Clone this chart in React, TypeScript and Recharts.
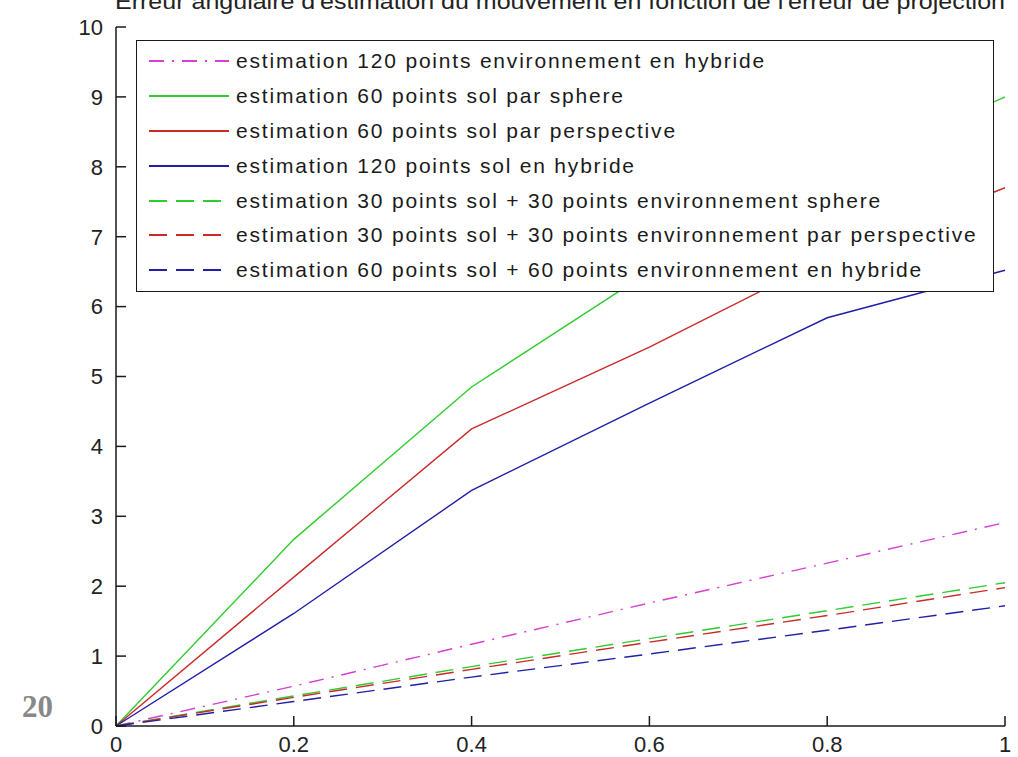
import { Legend, Line, LineChart, XAxis, YAxis } from 'recharts';

// erreur de projection (abscisse)
const projectionError = [0, 0.2, 0.4, 0.6, 0.8, 1];

// erreur angulaire par configuration
const env120Hybride = [0, 0.57, 1.17, 1.76, 2.33, 2.91];
const sol60Sphere = [0, 2.67, 4.85, 6.5, 7.85, 9.0];
const sol60Perspective = [0, 2.13, 4.25, 5.42, 6.7, 7.7];
const sol120Hybride = [0, 1.61, 3.37, 4.62, 5.84, 6.52];
const mix30Sphere = [0, 0.43, 0.85, 1.25, 1.65, 2.05];
const mix30Perspective = [0, 0.41, 0.81, 1.2, 1.58, 1.98];
const mix60Hybride = [0, 0.35, 0.7, 1.03, 1.37, 1.72];

const xTicks = [0, 0.2, 0.4, 0.6, 0.8, 1];
const yTicks = [0, 1, 2, 3, 4, 5, 6, 7, 8, 9, 10];

const title = "Erreur angulaire d'estimation du mouvement en fonction de l'erreur de projection";

const series = [
  { key: 'env120', values: env120Hybride, name: 'estimation 120 points environnement en hybride', color: '#d63fd6', dash: '15 8 2 8' },
  { key: 'sol60s', values: sol60Sphere, name: 'estimation 60 points sol par sphere', color: '#2ecc2e', dash: undefined },
  { key: 'sol60p', values: sol60Perspective, name: 'estimation 60 points sol par perspective', color: '#cc2a2a', dash: undefined },
  { key: 'sol120', values: sol120Hybride, name: 'estimation 120 points sol en hybride', color: '#1f1fa8', dash: undefined },
  { key: 'mix30s', values: mix30Sphere, name: 'estimation 30 points sol + 30 points environnement sphere', color: '#2ecc2e', dash: '18 9' },
  { key: 'mix30p', values: mix30Perspective, name: 'estimation 30 points sol + 30 points environnement par perspective', color: '#cc2a2a', dash: '18 9' },
  { key: 'mix60', values: mix60Hybride, name: 'estimation 60 points sol + 60 points environnement en hybride', color: '#1f1fa8', dash: '18 9' },
];

const data = projectionError.map((x, i) => {
  const row: Record<string, number> = { x };
  series.forEach((s) => (row[s.key] = s.values[i]));
  return row;
});

const font = '"Liberation Sans", Arial, sans-serif';
const axisColor = '#1a1a1a';
const tickFont = { fontFamily: font, fontSize: 22, fill: '#222' };

// legend keeps the plot order (recharts would sort it by name)
function LegendBox() {
  return (
    <div style={{ border: `1.5px solid ${axisColor}`, background: '#fff', padding: '3px 0', width: 856 }}>
      {series.map((s) => (
        <div key={s.key} style={{ height: 34.8, display: 'flex', alignItems: 'center' }}>
          <svg width={99} height={10} style={{ flex: 'none' }}>
            <line x1={12} x2={92} y1={5} y2={5} stroke={s.color} strokeWidth={1.8} strokeDasharray={s.dash} />
          </svg>
          <span style={{ fontFamily: font, fontSize: 21, letterSpacing: 1.8, color: '#1a1a1a', whiteSpace: 'nowrap' }}>{s.name}</span>
        </div>
      ))}
    </div>
  );
}

export default function App() {
  return (
    <div style={{ position: 'relative', width: 1018, height: 757, background: '#fff' }}>
      <style>{'body{margin:0}'}</style>
      <LineChart width={1018} height={757} data={data} margin={{ top: 27, right: 13, bottom: 0, left: 0 }}>
        <XAxis
          dataKey="x"
          type="number"
          domain={[0, 1]}
          ticks={xTicks}
          height={31}
          stroke={axisColor}
          strokeWidth={1.5}
          tickSize={-10}
          tickMargin={20}
          tick={tickFont}
          tickFormatter={(v: number) => String(v)}
        />
        <XAxis xAxisId="top" dataKey="x" type="number" orientation="top" domain={[0, 1]} ticks={xTicks} height={0} stroke={axisColor} strokeWidth={1.5} tickSize={-10} tick={false} />
        <YAxis
          type="number"
          domain={[0, 10]}
          ticks={yTicks}
          width={116}
          stroke={axisColor}
          strokeWidth={1.5}
          tickSize={-10}
          tickMargin={23}
          tick={tickFont}
        />
        <YAxis yAxisId="right" orientation="right" type="number" domain={[0, 10]} ticks={yTicks} width={0} stroke={axisColor} strokeWidth={1.5} tickSize={-10} tick={false} />
        {series.map((s) => (
          <Line
            key={s.key}
            dataKey={s.key}
            name={s.name}
            type="linear"
            stroke={s.color}
            strokeWidth={1.4}
            strokeDasharray={s.dash}
            dot={false}
            activeDot={false}
            isAnimationActive={false}
          />
        ))}
        <Legend layout="vertical" align="center" verticalAlign="middle" content={LegendBox} wrapperStyle={{ position: 'absolute', left: 136, top: 40, width: 'auto', height: 'auto' }} />
      </LineChart>
      <svg width={1018} height={757} style={{ position: 'absolute', left: 0, top: 0, pointerEvents: 'none' }}>
        <text x={560} y={9} textAnchor="middle" fontFamily={font} fontSize={22} fill="#222" textLength={890} lengthAdjust="spacingAndGlyphs">
          {title}
        </text>
        <text x={22} y={717} fontFamily='"Liberation Serif", "Times New Roman", serif' fontWeight="bold" fontSize={31} fill="#888">
          20
        </text>
      </svg>
    </div>
  );
}
